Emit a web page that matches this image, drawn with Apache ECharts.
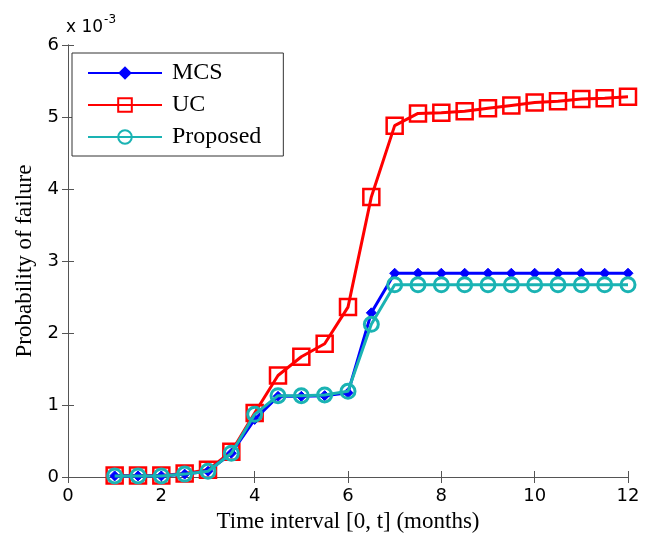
<!doctype html>
<html>
    <head>
        <meta charset="utf-8">
        <title>Probability of failure</title>
        <style>
            html, body { margin: 0; padding: 0; background: #fff; }
            #main { width: 645px; height: 539px; }
        </style>
    </head>
    <body>
        <div id="main"></div>
        <script src="https://cdn.jsdelivr.net/npm/echarts@6/dist/echarts.min.js"></script>
        <script>
            // time points in months
            var months = [1, 1.5, 2, 2.5, 3, 3.5, 4, 4.5, 5, 5.5, 6, 6.5, 7, 7.5, 8, 8.5, 9, 9.5, 10, 10.5, 11, 11.5, 12];
            // probability of failure, x 10^-3
            var mcs = [0.015, 0.015, 0.015, 0.04, 0.08, 0.33, 0.8, 1.12, 1.12, 1.13, 1.17, 2.28, 2.83, 2.83, 2.83, 2.83, 2.83, 2.83, 2.83, 2.83, 2.83, 2.83, 2.83];
            var uc = [0.02, 0.02, 0.02, 0.05, 0.1, 0.35, 0.89, 1.41, 1.67, 1.85, 2.36, 3.89, 4.88, 5.05, 5.06, 5.08, 5.12, 5.16, 5.2, 5.22, 5.25, 5.26, 5.28];
            var proposed = [0.015, 0.015, 0.015, 0.04, 0.08, 0.33, 0.87, 1.13, 1.13, 1.14, 1.19, 2.12, 2.67, 2.67, 2.67, 2.67, 2.67, 2.67, 2.67, 2.67, 2.67, 2.67, 2.67];

            function pairs(ys) {
                return months.map(function (m, i) { return [m, ys[i]]; });
            }

            var serif = '"Liberation Serif", "DejaVu Serif", serif';
            var sans = '"DejaVu Sans", "Liberation Sans", sans-serif';
            var axisColor = '#555';

            var chart = echarts.init(document.getElementById('main'));

            chart.setOption({
                backgroundColor: '#fff',
                animation: false,
                grid: { left: 68, right: 17, top: 45, bottom: 62, outerBoundsMode: 'none', containLabel: false },
                legend: {
                    orient: 'vertical',
                    left: 72,
                    top: 53,
                    itemWidth: 74,
                    itemHeight: 17,
                    itemGap: 6,
                    padding: [7, 22, 6, 15],
                    borderColor: '#333',
                    borderWidth: 1,
                    backgroundColor: '#fff',
                    textStyle: { fontFamily: serif, fontSize: 24, color: '#000', padding: [0, 0, 0, 5], lineHeight: 26 },
                    data: ['MCS', 'UC', 'Proposed']
                },
                xAxis: [{
                    type: 'value',
                    min: 0,
                    max: 12,
                    interval: 2,
                    name: 'Time interval [0, t] (months)',
                    nameLocation: 'middle',
                    nameGap: 33,
                    nameTextStyle: { fontFamily: serif, fontSize: 23, color: '#000' },
                    axisLine: { lineStyle: { color: axisColor } },
                    axisTick: { inside: true, length: 6, lineStyle: { color: axisColor } },
                    axisLabel: { fontFamily: sans, fontSize: 18, color: '#000', margin: 10 },
                    splitLine: { show: false }
                }, {
                    type: 'value',
                    position: 'top',
                    min: 0,
                    max: 12,
                    interval: 2,
                    axisLine: { show: true, lineStyle: { color: axisColor } },
                    axisTick: { inside: true, length: 6, lineStyle: { color: axisColor } },
                    axisLabel: { show: false },
                    splitLine: { show: false }
                }],
                yAxis: [{
                    type: 'value',
                    min: 0,
                    max: 6,
                    interval: 1,
                    name: 'Probability of failure',
                    nameLocation: 'middle',
                    nameGap: 32,
                    nameTextStyle: { fontFamily: serif, fontSize: 23, color: '#000' },
                    axisLine: { show: true, lineStyle: { color: axisColor } },
                    axisTick: { show: true, inside: true, length: 6, lineStyle: { color: axisColor } },
                    axisLabel: { fontFamily: sans, fontSize: 18, color: '#000', margin: 9 },
                    splitLine: { show: false }
                }, {
                    type: 'value',
                    position: 'right',
                    min: 0,
                    max: 6,
                    interval: 1,
                    axisLine: { show: true, lineStyle: { color: axisColor } },
                    axisTick: { show: true, inside: true, length: 6, lineStyle: { color: axisColor } },
                    axisLabel: { show: false },
                    splitLine: { show: false }
                }],
                graphic: [{
                    type: 'text',
                    left: 66,
                    top: 14,
                    style: {
                        text: '{a|x 10}{b|-3}',
                        rich: {
                            a: { fontFamily: sans, fontSize: 17, color: '#000', verticalAlign: 'bottom' },
                            b: { fontFamily: sans, fontSize: 12, color: '#000', verticalAlign: 'top', padding: [0, 0, 10, 1] }
                        }
                    }
                }],
                series: [{
                    name: 'MCS',
                    type: 'line',
                    z: 3,
                    data: pairs(mcs),
                    symbol: 'diamond',
                    symbolSize: 10,
                    lineStyle: { color: '#0000ff', width: 3 },
                    itemStyle: { color: '#0000ff', borderColor: '#0000ff' }
                }, {
                    name: 'UC',
                    type: 'line',
                    z: 2,
                    data: pairs(uc),
                    symbol: 'rect',
                    symbolSize: 16,
                    lineStyle: { color: '#ff0000', width: 3 },
                    itemStyle: { color: 'rgba(255,255,255,0)', borderColor: '#ff0000', borderWidth: 2.5 }
                }, {
                    name: 'Proposed',
                    type: 'line',
                    z: 4,
                    data: pairs(proposed),
                    symbol: 'circle',
                    symbolSize: 14,
                    lineStyle: { color: '#1ab3b3', width: 3 },
                    itemStyle: { color: 'rgba(255,255,255,0)', borderColor: '#1ab3b3', borderWidth: 3 }
                }]
            });

            window.addEventListener('resize', function () {
                chart.resize();
            });
        </script>
    </body>
</html>
